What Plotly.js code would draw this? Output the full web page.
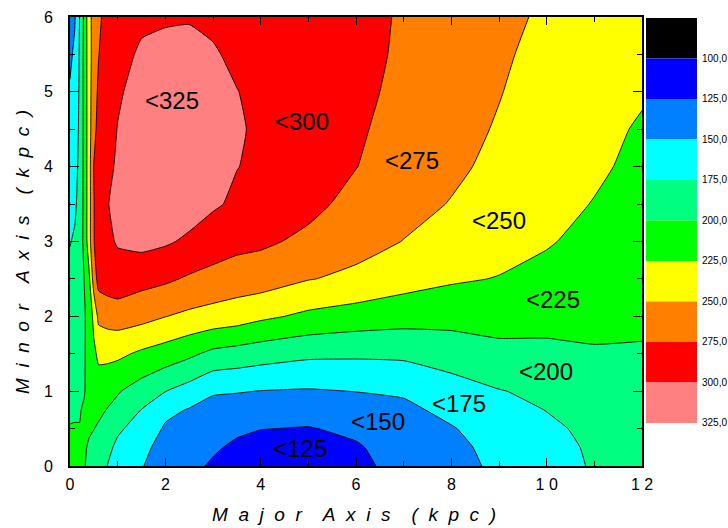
<!DOCTYPE html>
<html><head><meta charset="utf-8">
<script src="https://cdn.plot.ly/plotly-3.0.1.min.js"></script>
<style>html,body{margin:0;padding:0;background:#fff}</style>
</head><body><div id="chart" style="width:728px;height:528px"></div>
<script>
// ---- data ----
const majorAxis = [0, 0.1, 0.2, 0.3, 0.4, 0.5, 0.6, 0.8, 1, 1.5, 2, 2.5, 3, 3.5, 4, 5, 6, 7, 8, 9, 10, 11, 12];
const minorAxis = [0, 0.25, 0.5, 0.75, 1, 1.5, 2, 2.5, 3, 3.5, 4, 4.5, 5, 5.5, 6];
const velocity = [
  [212, 208, 204, 201, 196, 190, 185, 174, 168, 151, 141, 131, 122, 117, 114, 112, 120, 132, 143, 154, 166, 177, 186],
  [206, 204, 202, 203, 197, 193, 189, 179, 171, 155, 143, 135, 128, 121, 118, 116, 123, 134, 145, 156, 168, 178, 187],
  [201, 201, 200.5, 204, 203, 200.5, 197, 190, 178, 167, 147, 140, 135, 129, 125.5, 124, 129, 139, 148.5, 161, 171, 180, 188],
  [197, 198, 199, 202, 206, 207, 205, 198.5, 193, 174.5, 156, 148.5, 142, 138, 136, 134, 138, 145, 156, 167, 175.5, 183, 190],
  [194, 196, 198, 199, 207, 212, 213, 208, 202, 189, 175.5, 165, 152.5, 151.5, 149.5, 148, 150.5, 153, 164, 174, 180, 186, 192],
  [190, 192, 196, 198, 209, 220, 230, 231, 230, 221, 214, 205, 194, 190, 186, 180, 179, 180, 187, 193, 195, 198, 198],
  [186, 188, 194, 198, 208, 232, 256, 260, 262, 258, 250.5, 245, 241, 237, 230, 220, 214, 210, 208, 210, 207, 206, 204],
  [181, 184, 191, 200.5, 220, 262, 284, 288, 290, 283, 279, 272, 267, 263, 262, 251, 245, 235, 228, 224, 218, 212, 209],
  [174, 178, 187, 206, 240, 274, 286, 296, 302, 307, 303, 296, 288, 282, 279, 270, 258, 249.5, 242, 234, 227, 218, 213],
  [168, 171, 183, 207, 240, 274, 290, 299.5, 306, 312, 313, 311, 303, 296, 291, 281, 268, 257, 249, 240, 233, 224, 216],
  [162, 166, 181, 207, 240, 276, 288, 297, 302, 312, 314, 313, 309, 300.5, 296, 285, 275.5, 263, 254, 245, 237, 229, 219],
  [157, 162, 179, 207, 240, 268, 283, 294, 300.5, 309, 311, 311, 308, 302, 297, 287, 278, 267, 258, 248, 239, 233, 222],
  [152, 158, 178, 207, 240, 265, 279, 291, 298, 306, 308, 307, 304, 300.5, 295, 287, 280, 270, 261, 251, 240, 236, 228],
  [146, 154, 177, 207, 240, 262, 274.5, 286, 293, 303, 305, 304, 302, 296, 293, 287, 281, 272, 263, 253, 244, 239, 234],
  [140, 148, 175, 206, 242, 260, 272, 282, 287, 296, 298, 299, 296, 293, 291, 286, 281, 273, 265, 255, 247, 244, 240]
];
// contour levels / legend bands
const levels = [100, 125, 150, 175, 200, 225, 250, 275, 300, 325];
const bandLower = [75, 100, 125, 150, 175, 200, 225, 250, 275, 300];
const bandUpper = [100, 125, 150, 175, 200, 225, 250, 275, 300, 325];
const bandColors = ['#000000', '#0000FF', '#0080FF', '#00FFFF', '#00FF80', '#00FF00', '#FFFF00', '#FF8000', '#FF0000', '#FF8080'];
const levelLabels = ['100,0', '125,0', '150,0', '175,0', '200,0', '225,0', '250,0', '275,0', '300,0', '325,0'];
// in-plot region labels
const regionText = ['&lt;325', '&lt;300', '&lt;275', '&lt;250', '&lt;225', '&lt;200', '&lt;175', '&lt;150', '&lt;125'];
const regionX = [2.14, 4.86, 7.17, 8.99, 10.13, 9.98, 8.16, 6.47, 4.83];
const regionY = [4.89, 4.61, 4.08, 3.28, 2.22, 1.26, 0.83, 0.60, 0.23];
// axis ticks
const xTickVals = [0, 2, 4, 6, 8, 10, 12];
const xTickText = ['0', '2', '4', '6', '8', '1\u00a00', '1\u00a02'];
const yTickVals = [0, 1, 2, 3, 4, 5, 6];
const yTickText = ['0', '1', '2', '3', '4', '5', '6'];
const xTitle = 'M  a  j  o  r    A  x  i  s    (  k  p  c  )';
const yTitle = 'M  i  n  o  r    A  x  i  s    (  k  p  c  )';

// ---- build step colorscale for filled bands (100..325) ----
const nb = levels.length - 1;
const colorscale = [];
for (let i = 0; i < nb; i++) {
  colorscale.push([i / nb, bandColors[i + 1]]);
  colorscale.push([(i + 1) / nb, bandColors[i + 1]]);
}

const contour = {
  type: 'contour',
  x: majorAxis, y: minorAxis, z: velocity,
  colorscale: colorscale,
  showscale: false,
  contours: {start: levels[0], end: levels[levels.length - 1], size: 25, coloring: 'fill', showlines: true},
  line: {color: '#000', width: 0.9, smoothing: 0.4},
  hoverinfo: 'skip'
};

const legendBar = {
  type: 'bar',
  x: bandLower.map(() => 0),
  y: bandUpper.map((u, i) => u - bandLower[i]),
  base: bandLower,
  width: 1,
  marker: {color: bandColors, line: {width: 0}},
  xaxis: 'x2', yaxis: 'y2',
  hoverinfo: 'skip'
};

const tickFontAxis = {family: 'Liberation Sans Narrow, Liberation Sans, Arial, sans-serif', size: 16, color: '#000'};
const sp = s => '<i>' + s.replace(/ /g, '\u00a0') + '</i>';

const annotations = regionText.map((t, i) => ({
  x: regionX[i], y: regionY[i], xref: 'x', yref: 'y', text: t, showarrow: false,
  font: {family: 'Liberation Sans, Arial, sans-serif', size: 24, color: '#000'},
  xanchor: 'center', yanchor: 'middle'
}));
annotations.push({
  x: 0.4537, y: -0.109, xref: 'paper', yref: 'paper', text: sp(xTitle), showarrow: false,
  font: {family: 'Liberation Sans, Arial, sans-serif', size: 19, color: '#000'},
  xanchor: 'center', yanchor: 'middle'
});
annotations.push({
  x: -0.0766, y: 0.4766, xref: 'paper', yref: 'paper', text: sp(yTitle), showarrow: false,
  textangle: -90,
  font: {family: 'Liberation Sans, Arial, sans-serif', size: 19, color: '#000'},
  xanchor: 'center', yanchor: 'middle'
});

const layout = {
  width: 728, height: 528,
  margin: {l: 70, r: 31, t: 17, b: 62, pad: 0},
  paper_bgcolor: '#fff', plot_bgcolor: '#fff',
  showlegend: false,
  barmode: 'overlay',
  xaxis: {
    domain: [0, 0.9123], range: [0, 12], tickmode: 'array', tickvals: xTickVals, ticktext: xTickText,
    ticks: 'inside', ticklen: 8, tickwidth: 1, tickcolor: '#000',
    showline: true, linewidth: 2, linecolor: '#000', mirror: 'allticks',
    showgrid: false, zeroline: false, tickfont: tickFontAxis, ticklabelstandoff: 3,
    minor: {tick0: 0, dtick: 1, ticks: 'inside', ticklen: 5, tickwidth: 1, tickcolor: '#000', showgrid: false},
    fixedrange: true
  },
  yaxis: {
    domain: [0, 1], range: [0, 6], tickmode: 'array', tickvals: yTickVals, ticktext: yTickText,
    ticks: 'inside', ticklen: 9, tickwidth: 1, tickcolor: '#000',
    showline: true, linewidth: 2, linecolor: '#000', mirror: 'allticks',
    showgrid: false, zeroline: false, tickfont: tickFontAxis, ticklabelstandoff: 12,
    minor: {tick0: 0, dtick: 0.5, ticks: 'inside', ticklen: 5, tickwidth: 1, tickcolor: '#000', showgrid: false},
    fixedrange: true
  },
  xaxis2: {domain: [0.9187, 1], range: [-0.5, 0.5], anchor: 'y2', visible: false, fixedrange: true},
  yaxis2: {
    domain: [0.0958, 0.9978], range: [325, 75], anchor: 'x2', side: 'right',
    tickmode: 'array', tickvals: levels, ticktext: levelLabels, ticks: '',
    showline: false, showgrid: false, zeroline: false, ticklabelstandoff: 4,
    tickfont: {family: 'Liberation Sans, Arial, sans-serif', size: 10, color: '#000'},
    fixedrange: true
  },
  annotations: annotations
};

Plotly.newPlot('chart', [contour, legendBar], layout, {staticPlot: true, displayModeBar: false});
</script></body></html>
